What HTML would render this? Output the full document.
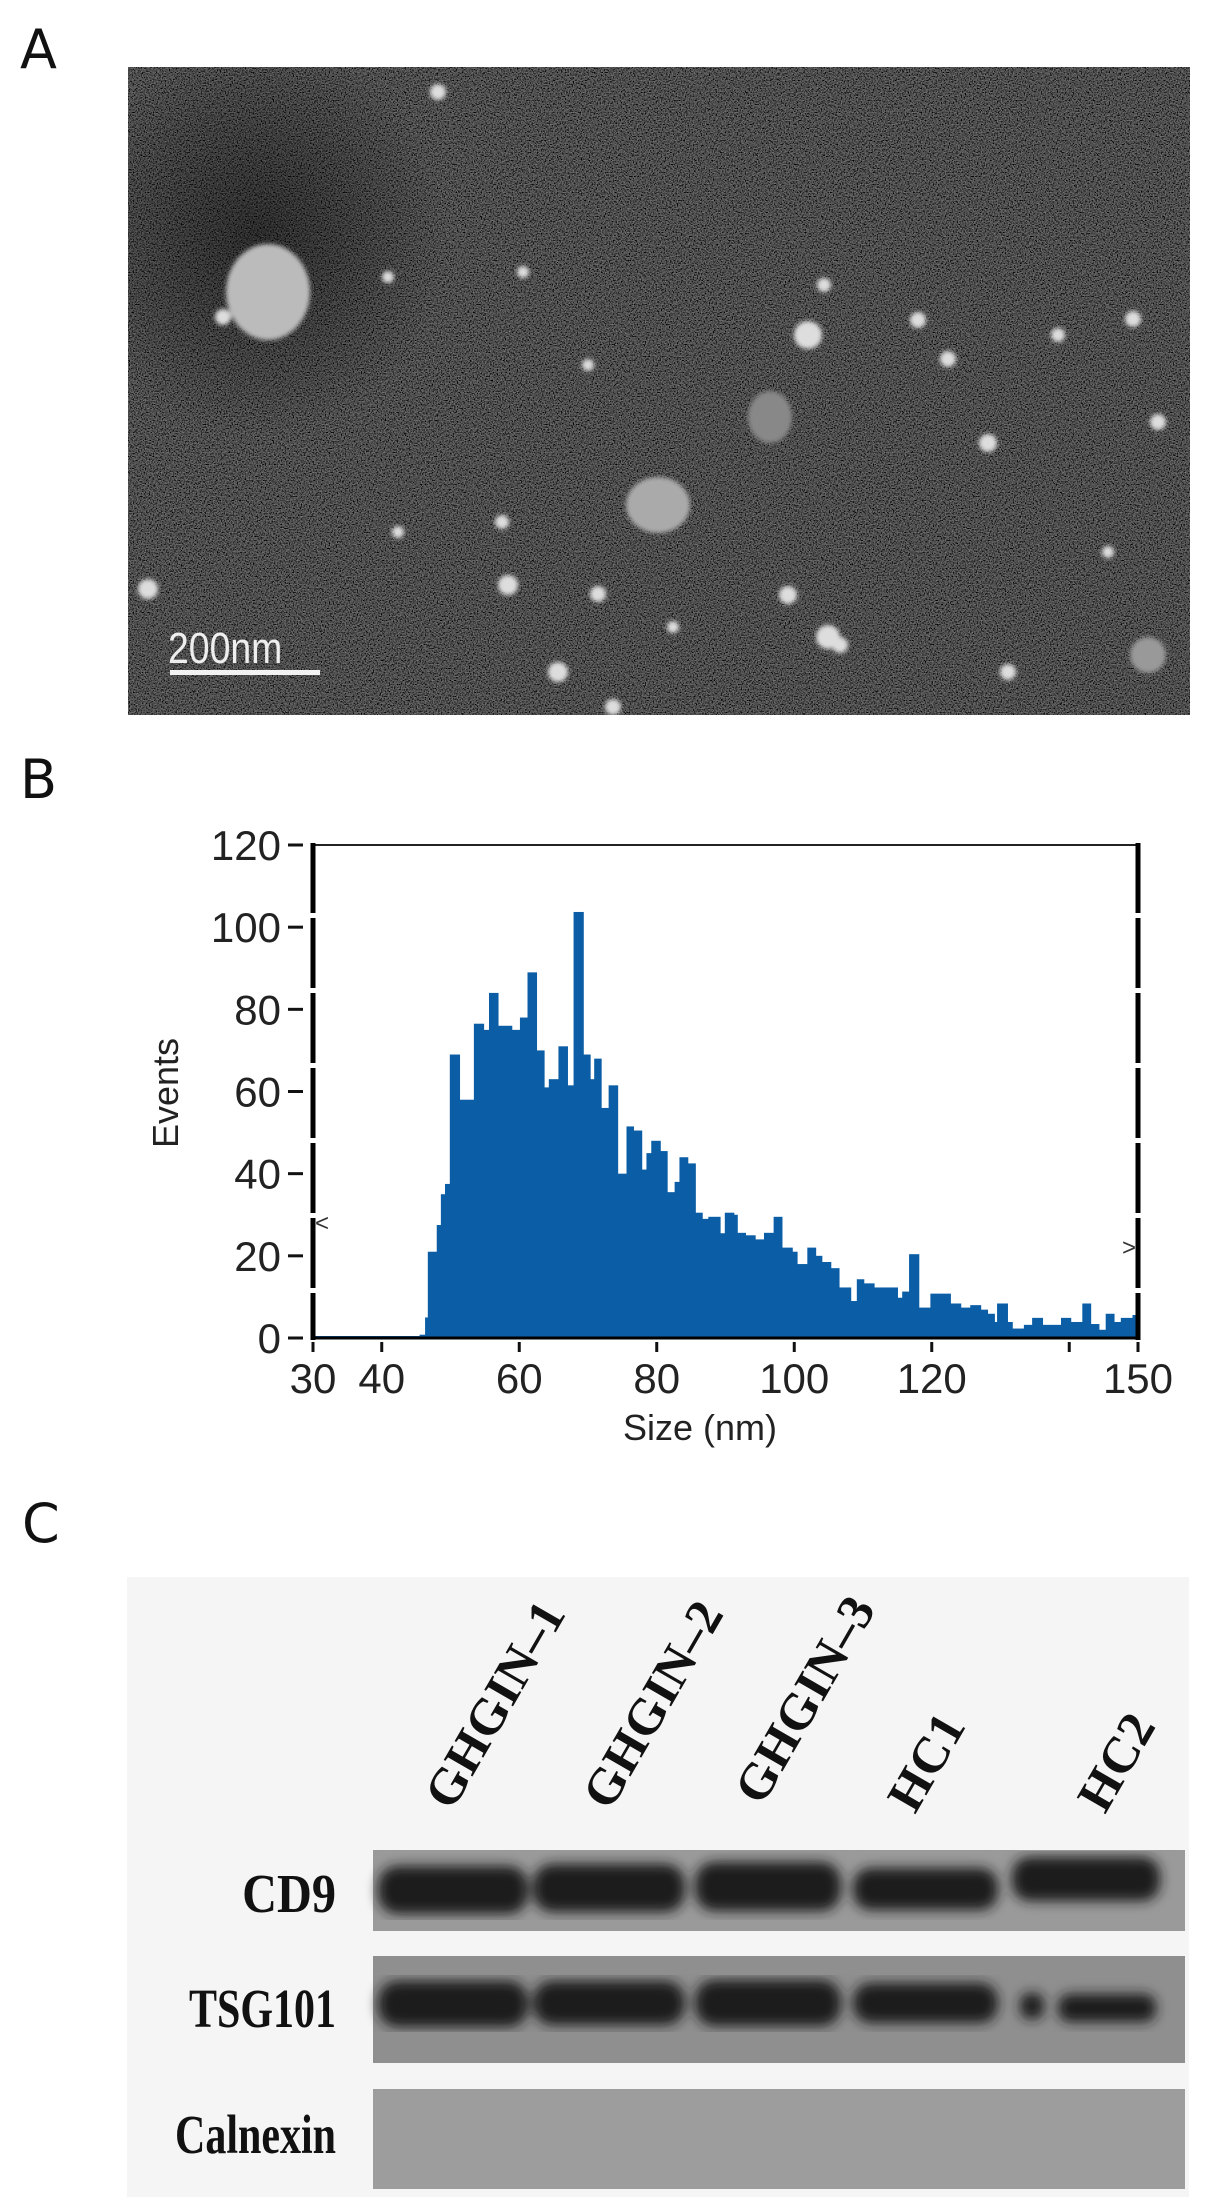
<!DOCTYPE html>
<html><head><meta charset="utf-8">
<style>
html,body{margin:0;padding:0;background:#fff;}
body{width:1205px;height:2202px;position:relative;overflow:hidden;font-family:"Liberation Sans",sans-serif;}
.panel-label{position:absolute;font-size:54px;color:#111;font-family:"DejaVu Sans","Liberation Sans",sans-serif;font-weight:normal;}
</style></head>
<body>
<div class="panel-label" style="left:20px;top:18px;">A</div>
<div class="panel-label" style="left:20px;top:748px;">B</div>
<div class="panel-label" style="left:22px;top:1492px;">C</div>

<!-- Panel A: TEM micrograph -->
<svg style="position:absolute;left:128px;top:67px;" width="1062" height="648" viewBox="0 0 1062 648">
  <defs>
    <filter id="noise" x="0" y="0" width="100%" height="100%">
      <feTurbulence type="fractalNoise" baseFrequency="0.75" numOctaves="2" seed="4" result="t"/>
      <feColorMatrix type="matrix" values="0.33 0.33 0.33 0 0  0.33 0.33 0.33 0 0  0.33 0.33 0.33 0 0  0 0 0 0 1" result="g"/>
      <feComponentTransfer><feFuncR type="linear" slope="2.6" intercept="-1.0"/><feFuncG type="linear" slope="2.6" intercept="-1.0"/><feFuncB type="linear" slope="2.6" intercept="-1.0"/></feComponentTransfer>
    </filter>
    <filter id="blur"><feGaussianBlur stdDeviation="2"/></filter>
    <radialGradient id="dark" cx="0.5" cy="0.5" r="0.5"><stop offset="0" stop-color="#000" stop-opacity="0.45"/><stop offset="1" stop-color="#000" stop-opacity="0"/></radialGradient>
  </defs>
  <rect width="1062" height="648" fill="#333"/>
  <rect width="1062" height="648" filter="url(#noise)"/>
  <rect width="1062" height="648" fill="#000" opacity="0.45"/>
  <ellipse cx="130" cy="170" rx="190" ry="200" fill="url(#dark)"/>
  <g fill="#ddd" filter="url(#blur)">
    <ellipse cx="140" cy="225" rx="42" ry="48" fill="#bbb"/>
    <ellipse cx="642" cy="350" rx="22" ry="26" fill="#888"/>
    <ellipse cx="530" cy="438" rx="32" ry="28" fill="#aaa"/>
    <circle cx="95" cy="250" r="8"/><circle cx="260" cy="210" r="6"/><circle cx="395" cy="205" r="6"/>
    <circle cx="696" cy="218" r="7"/><circle cx="790" cy="253" r="8"/><circle cx="680" cy="268" r="14"/>
    <circle cx="460" cy="298" r="6"/><circle cx="820" cy="292" r="8"/><circle cx="930" cy="268" r="7"/>
    <circle cx="860" cy="376" r="9"/><circle cx="374" cy="455" r="7"/><circle cx="270" cy="465" r="6"/>
    <circle cx="380" cy="518" r="10"/><circle cx="470" cy="527" r="8"/><circle cx="660" cy="528" r="9"/>
    <circle cx="700" cy="570" r="12"/><circle cx="712" cy="578" r="8"/><circle cx="20" cy="522" r="10"/>
    <circle cx="545" cy="560" r="6"/><circle cx="430" cy="605" r="10"/><circle cx="485" cy="640" r="8"/>
    <circle cx="880" cy="605" r="8"/><circle cx="1020" cy="588" r="18" fill="#999"/><circle cx="310" cy="25" r="8"/>
    <circle cx="1005" cy="252" r="8"/><circle cx="980" cy="485" r="6"/><circle cx="1030" cy="355" r="8"/>
  </g>
  <text x="40" y="596" fill="#eee" font-family="Liberation Sans, sans-serif" font-size="44" transform="translate(40,596) scale(0.85,1) translate(-40,-596)">200nm</text>
  <rect x="42" y="603" width="150" height="5" fill="#f2f2f2"/>
</svg>

<!-- Panel B: histogram -->
<svg id="hist" style="position:absolute;left:0;top:760px;" width="1205" height="720" viewBox="0 760 1205 720"></svg>
<script>
const binStart = [45.5,46.3,46.7,48.0,48.6,49.2,49.9,51.3,53.4,54.8,55.6,56.9,58.9,60.1,61.2,62.5,63.6,64.3,65.7,67.0,67.9,69.3,70.3,70.9,71.9,73.0,74.3,75.6,76.6,77.8,78.5,79.2,80.5,81.5,82.6,83.3,84.5,85.6,86.6,87.5,89.2,89.9,91.2,91.7,92.9,94.3,95.6,97.0,98.2,99.7,100.4,101.9,103.1,104.0,105.3,106.5,108.2,109.1,110.1,111.6,115.0,115.7,116.7,118.1,119.8,122.7,124.2,125.6,127.1,128.1,129.1,129.5,131.0,131.7,133.4,134.6,136.1,138.8,140.2,141.9,143.1,144.3,145.3,146.5,147.5,149.2];
const counts   = [0.8,5,21,27.5,35,37.5,69,58,76.5,75,84,76,75,78,89,70,61,63,71,61.5,103.7,69,63,68,56,61.5,40,51.5,50.5,41,45,48,45.5,35.5,38,44,42.5,30.5,29,29.5,25.5,30.5,30,25.6,25,24,25.6,29.5,22,21,18,22,20,18.5,17,12.3,9,14.3,13.3,12.3,9.8,11.3,20.4,7.4,10.8,8.4,7.4,8,6.9,5.9,3.9,8.4,3.9,2.3,3.2,4.9,3.2,4.9,3.9,8.4,3.4,2,5.9,3.9,4.9,5.6];
const xTicks = [30,40,60,80,100,120,140,150];
const xTickLabels = ["30","40","60","80","100","120","","150"];
const yTicks = [0,20,40,60,80,100,120];
const xMin = 30, xMax = 150, yMax = 120;

const svg = document.getElementById('hist');
const NS = 'http://www.w3.org/2000/svg';
const L = 313, R = 1138, T = 845, B = 1338;
function xs(v){ return L + (v - xMin) / (xMax - xMin) * (R - L); }
function ys(v){ return B - v / yMax * (B - T); }
function mk(tag, attrs){ const e = document.createElementNS(NS, tag); for (const k in attrs) e.setAttribute(k, attrs[k]); svg.appendChild(e); return e; }

let base = mk('line',{x1:L,y1:B-1,x2:xs(binStart[0]),y2:B-1,stroke:'#0b5ea6','stroke-width':2});



for (let i = 0; i < counts.length; i++) {
  const x0 = xs(binStart[i]);
  const x1 = i < counts.length - 1 ? xs(binStart[i+1]) : xs(xMax);
  const r = mk('rect',{x:x0,y:ys(counts[i]),width:Math.max(0.5,x1-x0+0.6),height:B-ys(counts[i]),fill:'#0b5ea6'});
  
  
}

let f1 = mk('line',{x1:L,y1:T,x2:R,y2:T,stroke:'#222','stroke-width':2});


let f2 = mk('line',{x1:L,y1:T-2,x2:L,y2:B+2,stroke:'#000','stroke-width':5,'stroke-dasharray':'70 5'});


let f3 = mk('line',{x1:R,y1:T-2,x2:R,y2:B+2,stroke:'#000','stroke-width':5,'stroke-dasharray':'70 5'});


let f4 = mk('line',{x1:L,y1:B,x2:R,y2:B,stroke:'#000','stroke-width':3});



for (const v of yTicks) {
  const y = ys(v);
  const t = mk('line',{x1:288,y1:y,x2:303,y2:y,stroke:'#111','stroke-width':3});
  
  
  const tx = mk('text',{x:281,y:y+15,'text-anchor':'end','font-size':42,fill:'#222','font-family':'Liberation Sans, sans-serif'});
  tx.textContent = v;
  
  
}
for (let i = 0; i < xTicks.length; i++) {
  const x = xs(xTicks[i]);
  const t = mk('line',{x1:x,y1:1342,x2:x,y2:1352,stroke:'#111','stroke-width':3});
  
  
  const tx = mk('text',{x:x,y:1393,'text-anchor':'middle','font-size':42,fill:'#222','font-family':'Liberation Sans, sans-serif'});
  tx.textContent = xTickLabels[i];
  
  
}
let m1 = mk('text',{x:L+2,y:ys(28)+8,'font-size':24,fill:'#333','font-family':'Liberation Sans, sans-serif'});
m1.textContent = '<';


let m2 = mk('text',{x:R-16,y:ys(22)+8,'font-size':24,fill:'#333','font-family':'Liberation Sans, sans-serif'});
m2.textContent = '>';


let xt = mk('text',{x:700,y:1440,'text-anchor':'middle','font-size':36,fill:'#222','font-family':'Liberation Sans, sans-serif'});
xt.textContent = 'Size (nm)';


let yt = mk('text',{x:0,y:0,'text-anchor':'middle','font-size':36,fill:'#222','font-family':'Liberation Sans, sans-serif',transform:'translate(178,1093) rotate(-90)'});
yt.textContent = 'Events';


</script>

<!-- Panel C: western blot -->
<svg style="position:absolute;left:0;top:1560px;" width="1205" height="642" viewBox="0 1560 1205 642">
  <defs><filter id="bb"><feGaussianBlur stdDeviation="6"/></filter></defs>
  <rect x="127" y="1577" width="1062" height="620" fill="#f5f5f5"/>
  <g font-family="Liberation Serif, serif" font-weight="bold" font-size="46" fill="#111">
    <text transform="translate(452,1812) rotate(-60) scale(1.12,1.1)">GHGIN–1</text>
    <text transform="translate(610,1812) rotate(-60) scale(1.12,1.1)">GHGIN–2</text>
    <text transform="translate(762,1807) rotate(-60) scale(1.12,1.1)">GHGIN–3</text>
    <text transform="translate(915,1815) rotate(-60) scale(1.12,1.1)">HC1</text>
    <text transform="translate(1105,1815) rotate(-60) scale(1.12,1.1)">HC2</text>
  </g>
  <g font-family="Liberation Serif, serif" font-weight="bold" font-size="42" fill="#111" text-anchor="end">
    <text transform="translate(336,1912) scale(1.15,1.3)">CD9</text>
    <text transform="translate(336,2027) scale(1,1.3)">TSG101</text>
    <text transform="translate(336,2153) scale(1,1.3)">Calnexin</text>
  </g>
  <rect x="373" y="1850" width="812" height="81" fill="#9a9a9a"/>
  <rect x="373" y="1956" width="812" height="107" fill="#8f8f8f"/>
  <rect x="373" y="2089" width="812" height="100" fill="#9d9d9d"/>
  <g fill="#1b1b1b" filter="url(#bb)">
    <rect x="378" y="1866" width="150" height="48" rx="20"/>
    <rect x="533" y="1864" width="152" height="48" rx="20"/>
    <rect x="695" y="1862" width="146" height="49" rx="20"/>
    <rect x="853" y="1868" width="145" height="42" rx="18"/>
    <rect x="1012" y="1857" width="148" height="44" rx="18"/>
  </g>
  <g fill="#1d1d1d" filter="url(#bb)">
    <rect x="378" y="1981" width="150" height="46" rx="20"/>
    <rect x="533" y="1981" width="152" height="44" rx="20"/>
    <rect x="695" y="1980" width="146" height="46" rx="20"/>
    <rect x="853" y="1983" width="145" height="40" rx="18"/>
    <rect x="1020" y="1993" width="24" height="26" rx="10"/>
    <rect x="1058" y="1994" width="98" height="28" rx="12"/>
  </g>
</svg>
</body></html>
